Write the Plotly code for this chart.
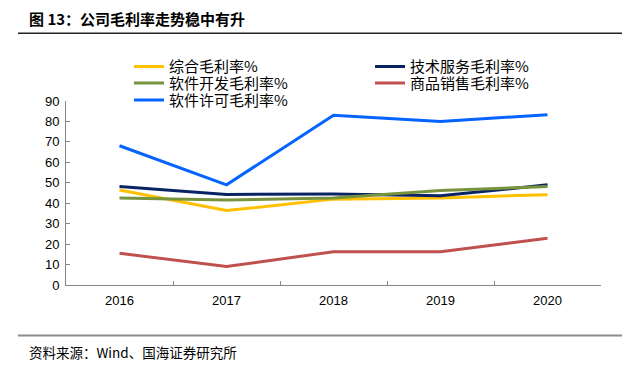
import plotly.graph_objects as go

years = ["2016", "2017", "2018", "2019", "2020"]
overall = [46.5, 36.4, 42.0, 42.6, 44.2]
tech_service = [48.2, 44.3, 44.5, 43.6, 49.0]
software_dev = [42.5, 41.6, 42.5, 46.2, 48.2]
goods_sales = [15.5, 9.0, 16.3, 16.3, 22.9]
software_license = [68.1, 49.0, 83.0, 80.0, 83.3]
y_ticks = [0, 10, 20, 30, 40, 50, 60, 70, 80, 90]

W, H = 635, 368
L, R, T, B = 66, 34, 101, 83
PW, PH = W - L - R, H - T - B

def px(x):
    return (x - L) / PW

def py(y):
    return (H - B - y) / PH

series = [
    ("综合毛利率%", overall, "#FFC000", "legend"),
    ("技术服务毛利率%", tech_service, "#0A2463", "legend"),
    ("软件开发毛利率%", software_dev, "#77933C", "legend2"),
    ("商品销售毛利率%", goods_sales, "#C0504D", "legend2"),
    ("软件许可毛利率%", software_license, "#0563FF", "legend3"),
]

fig = go.Figure()
for name, vals, color, lg in series:
    fig.add_trace(go.Scatter(x=years, y=vals, name=name, mode="lines",
                             line=dict(color=color, width=3), legend=lg))

legend_common = dict(orientation="h", xanchor="left", yanchor="middle",
                     x=px(129), entrywidth=196, entrywidthmode="pixels",
                     bgcolor="rgba(0,0,0,0)", tracegroupgap=0,
                     font=dict(family="Noto Sans CJK SC", size=15, color="#000"))

fig.update_layout(
    width=W, height=H,
    margin=dict(l=L, r=R, t=T, b=B, autoexpand=False),
    paper_bgcolor="white", plot_bgcolor="white",
    font=dict(family="Liberation Sans, Arial", size=13, color="#000"),
    legend=dict(legend_common, y=py(66.7)),
    legend2=dict(legend_common, y=py(83.2)),
    legend3=dict(legend_common, y=py(100.2)),
    xaxis=dict(type="category", showgrid=False, showline=True, linecolor="#868686",
               linewidth=1, ticks="inside", ticklen=4, tickcolor="#868686",
               tickson="boundaries", tickfont=dict(size=13), range=[-0.5, 4.5],
               ticklabelstandoff=3),
    yaxis=dict(range=[0, 90], tickvals=y_ticks, showgrid=False, showline=True,
               linecolor="#868686", linewidth=1, ticks="inside", ticklen=4,
               tickcolor="#868686", tickfont=dict(size=13), zeroline=False,
               ticklabelstandoff=3),
    showlegend=True,
)

fig.add_annotation(text="<b>图 13：公司毛利率走势稳中有升</b>", xref="paper", yref="paper",
                   x=px(27), y=py(18), xanchor="left", yanchor="middle", showarrow=False,
                   font=dict(family="Noto Sans CJK SC", size=15, color="#000"))
fig.add_annotation(text="资料来源：Wind、国海证券研究所", xref="paper", yref="paper",
                   x=px(27), y=py(352), xanchor="left", yanchor="middle", showarrow=False,
                   font=dict(family="Noto Sans CJK SC", size=13.5, color="#000"))
fig.add_shape(type="line", xref="paper", yref="paper", x0=px(18), x1=px(622),
              y0=py(33.3), y1=py(33.3), line=dict(color="#222", width=1.5))
fig.add_shape(type="line", xref="paper", yref="paper", x0=px(18), x1=px(622),
              y0=py(335.5), y1=py(335.5), line=dict(color="#8C8C8C", width=2))

fig.write_html("out.html", config={"displayModeBar": False},
               post_script="document.body.style.margin='0';document.body.style.overflow='hidden';")
